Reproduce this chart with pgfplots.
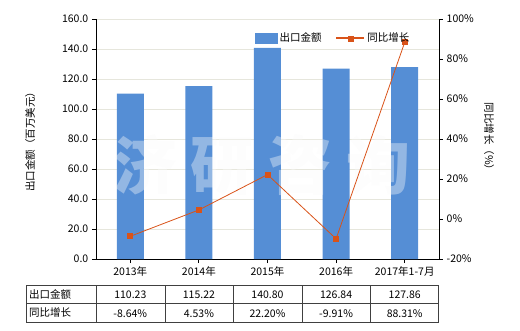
\documentclass[border=0pt]{standalone}
\usepackage{fontspec}
\setmainfont{Noto Sans CJK SC}
\usepackage{pgfplots}
\pgfplotsset{compat=1.18}
\definecolor{barblue}{HTML}{558ED5}
\definecolor{lineor}{HTML}{D95319}
\definecolor{gridc}{HTML}{E6E6DC}
\definecolor{tablec}{HTML}{404040}
\begin{document}
\fontsize{10.5}{12.5}\selectfont
\begin{tikzpicture}
\path[use as bounding box] (0pt,0pt) rectangle (520pt,330pt);
\begin{axis}[
  at={(96pt,71pt)}, anchor=south west, scale only axis, width=343pt, height=240pt,
  xmin=-0.5, xmax=4.5, ymin=0, ymax=160,
  xtick={0,1,2,3,4}, xticklabels={2013年,2014年,2015年,2016年,2017年1-7月},
  ytick={0,20,...,160},
  axis x line*=bottom, axis y line*=left,
  tick align=outside, major tick length=4pt,
  ymajorgrids, grid style={gridc, line width=0.6pt},
  axis line style={black, line width=0.8pt}, tick style={black, line width=0.8pt},
  yticklabel style={/pgf/number format/.cd, fixed, fixed zerofill, precision=1},
  /pgf/number format/assume math mode=true,
  ylabel={出口金额（百万美元）},
  ylabel style={at={(axis description cs:-0.192,0.5)}, anchor=center},
  clip=false,
]
\addplot[ybar, bar width=27pt, fill=barblue, draw=none] coordinates {
  (0,110.23) (1,115.22) (2,140.80) (3,126.84) (4,127.86)};
\node[white!98!black, opacity=0.38, font=\fontsize{64}{64}\selectfont\bfseries]
  at (rel axis cs:0.484,0.39) {济\hspace{14pt}研\hspace{14pt}咨\hspace{14pt}询};
\end{axis}
\begin{axis}[
  at={(96pt,71pt)}, anchor=south west, scale only axis, width=343pt, height=240pt,
  xmin=-0.5, xmax=4.5, ymin=-20, ymax=100,
  ytick={-20,0,...,100},
  hide x axis, axis y line*=right,
  tick align=outside, major tick length=4pt,
  axis line style={black, line width=0.8pt}, tick style={black, line width=0.8pt},
  /pgf/number format/assume math mode=true,
  yticklabel={\pgfmathprintnumber{\tick}\%},
  ylabel={同比增长（\%）},
  ylabel style={at={(axis description cs:1.146,0.5)}, anchor=center, rotate=180},
  legend style={at={(axis description cs:0.455,0.92)}, anchor=west, draw=none, fill=none,
    legend columns=2, /tikz/every even column/.append style={column sep=12pt},
    legend cell align=left},
  clip=false,
]
\addlegendimage{legend image code/.code={\fill[barblue] (0pt,-5pt) rectangle (22pt,5pt);}}
\addlegendentry{出口金额}
\addlegendimage{legend image code/.code={\draw[lineor, line width=1.6pt] (0pt,0pt) -- (28pt,0pt);
  \fill[lineor] (11.5pt,-2.5pt) rectangle (16.5pt,2.5pt);}}
\addlegendentry{同比增长}
\addplot[lineor, line width=0.8pt, mark=square*, mark size=2.5pt, mark options={fill=lineor, draw=lineor}, forget plot]
  coordinates {(0,-8.64) (1,4.53) (2,22.20) (3,-9.91) (4,88.31)};
\end{axis}
\draw[tablec, line width=0.8pt] (26.7pt,8pt) rectangle (438.5pt,45pt);
\draw[tablec, line width=0.8pt] (26.7pt,26.5pt) -- (438.5pt,26.5pt);
\foreach \x in {96.5,165,233.5,302,370.5} \draw[tablec, line width=0.8pt] (\x pt,8pt) -- (\x pt,45pt);
\node[anchor=west, inner sep=1pt] at (28pt,36pt) {出口金额};
\node[anchor=west, inner sep=1pt] at (28pt,17pt) {同比增长};
\foreach \x/\v in {130.3/110.23, 198.9/115.22, 267.5/140.80, 336.1/126.84, 404.7/127.86}
  \node at (\x pt,35pt) {\v};
\foreach \x/\v in {130.3/-8.64\%, 198.9/4.53\%, 267.5/22.20\%, 336.1/-9.91\%, 404.7/88.31\%}
  \node at (\x pt,16pt) {\v};
\end{tikzpicture}
\end{document}
